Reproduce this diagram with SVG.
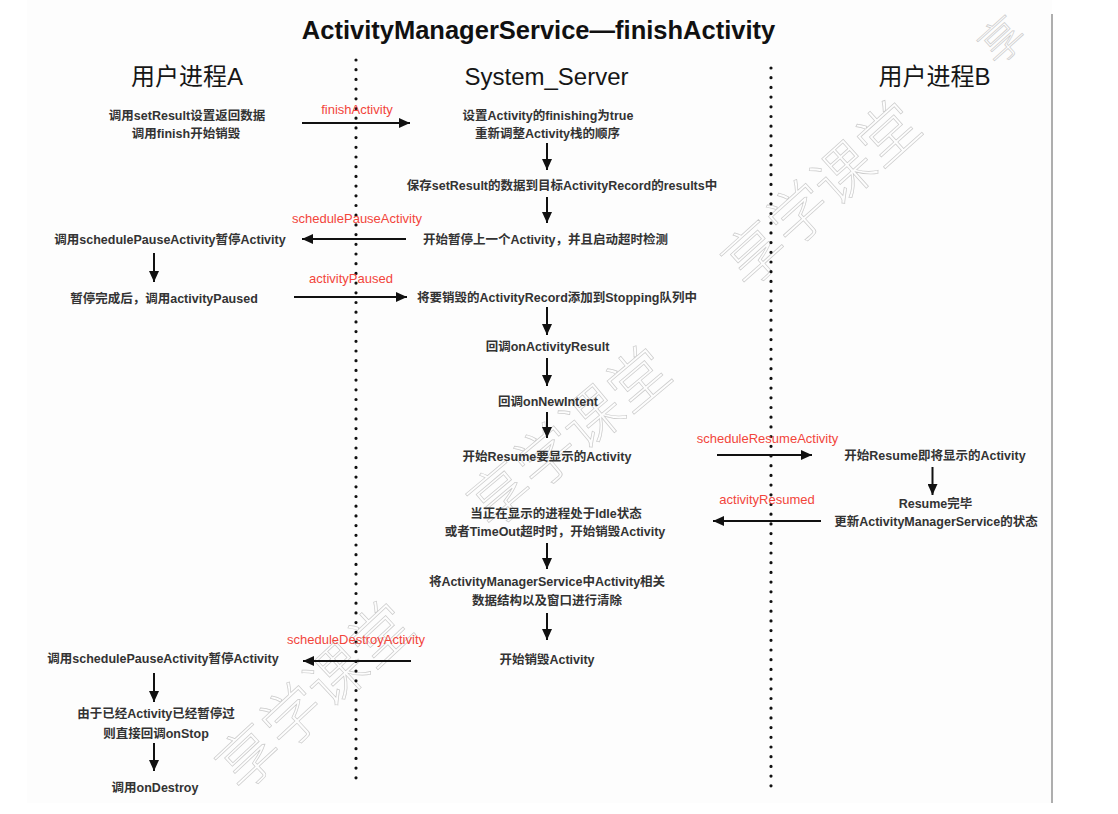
<svg xmlns="http://www.w3.org/2000/svg" width="1118" height="814" viewBox="0 0 1118 814">
<defs>
<style>
text{font-family:"Liberation Sans","Noto Sans CJK SC",sans-serif;text-anchor:middle}
.t{font-size:12.5px;font-weight:bold;fill:#333}
.h{font-size:24px;fill:#161616}
.title{font-size:25.5px;font-weight:bold;fill:#111}
.lbl{font-size:13px;fill:#f2453b}
.wm{font-family:"Noto Sans CJK SC",sans-serif;font-size:60px;font-weight:300;fill:none;stroke:#cbcbcb;stroke-width:0.7;dominant-baseline:central}
.wm2{font-family:"Noto Sans CJK SC",sans-serif;font-size:44px;font-weight:300;fill:none;stroke:#cbcbcb;stroke-width:0.7}
.arr{stroke:#111;stroke-width:2;fill:none;marker-end:url(#ah)}
.dot{stroke:#111;stroke-width:3.2;stroke-linecap:round;stroke-dasharray:0 9.7}
</style>
<marker id="ah" markerUnits="userSpaceOnUse" markerWidth="11" markerHeight="10" refX="11" refY="5" orient="auto">
<path d="M0,0 L11,5 L0,10 z" fill="#111"/>
</marker>
</defs>
<rect width="1118" height="814" fill="#fff"/>
<rect x="27" y="0" width="1025" height="803" fill="#fdfdfd"/>
<line x1="1052" y1="14" x2="1052" y2="803" stroke="#9a9a9a" stroke-width="1.6"/>

<g id="watermark">
<text class="wm" transform="translate(818,190) rotate(-42)">享学课堂</text>
<text class="wm" transform="translate(566,433) rotate(-40)">享学课堂</text>
<text class="wm" transform="translate(311,692) rotate(-43)">享学课堂</text>
<text class="wm2" transform="rotate(-42 1002 40)" x="1002" y="56">享</text>
</g>

<text class="title" x="538.5" y="39">ActivityManagerService—finishActivity</text>

<g id="lanes">
<text class="h" x="187" y="85">用户进程A</text>
<text class="h" x="546.5" y="85">System_Server</text>
<text class="h" x="934.5" y="85">用户进程B</text>
<line class="dot" x1="356" y1="60" x2="356" y2="779"/>
<line class="dot" x1="771" y1="68" x2="771" y2="789"/>
</g>

<g id="nA1"><text class="t" x="187" y="119.5">调用setResult设置返回数据</text><text class="t" x="186" y="137.5">调用finish开始销毁</text></g>
<g id="nA2"><text class="t" x="170" y="243.5">调用schedulePauseActivity暂停Activity</text></g>
<g id="nA3"><text class="t" x="164" y="302.5">暂停完成后，调用activityPaused</text></g>
<g id="nA4"><text class="t" x="163" y="662.5">调用schedulePauseActivity暂停Activity</text></g>
<g id="nA5"><text class="t" x="156" y="717.5">由于已经Activity已经暂停过</text><text class="t" x="156" y="737.5">则直接回调onStop</text></g>
<g id="nA6"><text class="t" x="155" y="791.5">调用onDestroy</text></g>

<g id="nS1"><text class="t" x="548" y="119.5">设置Activity的finishing为true</text><text class="t" x="547.5" y="137.5">重新调整Activity栈的顺序</text></g>
<g id="nS2"><text class="t" x="562" y="189.5">保存setResult的数据到目标ActivityRecord的results中</text></g>
<g id="nS3"><text class="t" x="545.5" y="243.5">开始暂停上一个Activity，并且启动超时检测</text></g>
<g id="nS4"><text class="t" x="557" y="301.5">将要销毁的ActivityRecord添加到Stopping队列中</text></g>
<g id="nS5"><text class="t" x="547.5" y="350.5">回调onActivityResult</text></g>
<g id="nS6"><text class="t" x="548" y="405.5">回调onNewIntent</text></g>
<g id="nS7"><text class="t" x="547" y="460.5">开始Resume要显示的Activity</text></g>
<g id="nS8"><text class="t" x="556" y="517.5">当正在显示的进程处于Idle状态</text><text class="t" x="555" y="535.5">或者TimeOut超时时，开始销毁Activity</text></g>
<g id="nS9"><text class="t" x="547" y="585.5">将ActivityManagerService中Activity相关</text><text class="t" x="547" y="604.5">数据结构以及窗口进行清除</text></g>
<g id="nS10"><text class="t" x="547" y="663.5">开始销毁Activity</text></g>

<g id="nB1"><text class="t" x="935" y="460">开始Resume即将显示的Activity</text></g>
<g id="nB2"><text class="t" x="935.5" y="507.5">Resume完毕</text><text class="t" x="936" y="526">更新ActivityManagerService的状态</text></g>

<g id="connectors">
<line class="arr" x1="302" y1="123" x2="410" y2="123"/>
<text class="lbl" x="357" y="113.5">finishActivity</text>
<line class="arr" x1="406" y1="239" x2="302" y2="239"/>
<text class="lbl" x="357" y="222.5">schedulePauseActivity</text>
<line class="arr" x1="294" y1="297" x2="407" y2="297"/>
<text class="lbl" x="351" y="282.5">activityPaused</text>
<line class="arr" x1="717" y1="455" x2="812" y2="455"/>
<text class="lbl" x="767.5" y="442.5">scheduleResumeActivity</text>
<line class="arr" x1="821" y1="521" x2="713" y2="521"/>
<text class="lbl" x="767" y="503.5">activityResumed</text>
<line class="arr" x1="411" y1="661" x2="303" y2="661"/>
<text class="lbl" x="356" y="643.5">scheduleDestroyActivity</text>

<line class="arr" x1="547" y1="143" x2="547" y2="170"/>
<line class="arr" x1="547" y1="197" x2="547" y2="223"/>
<line class="arr" x1="547" y1="307" x2="547" y2="335"/>
<line class="arr" x1="547" y1="358" x2="547" y2="386"/>
<line class="arr" x1="547" y1="412" x2="547" y2="438"/>
<line class="arr" x1="547" y1="543" x2="547" y2="569"/>
<line class="arr" x1="547" y1="613" x2="547" y2="640"/>
<line class="arr" x1="154" y1="253" x2="154" y2="282"/>
<line class="arr" x1="154" y1="673" x2="154" y2="702"/>
<line class="arr" x1="154" y1="743" x2="154" y2="771"/>
<line class="arr" x1="932.5" y1="467" x2="932.5" y2="495"/>
</g>
</svg>
